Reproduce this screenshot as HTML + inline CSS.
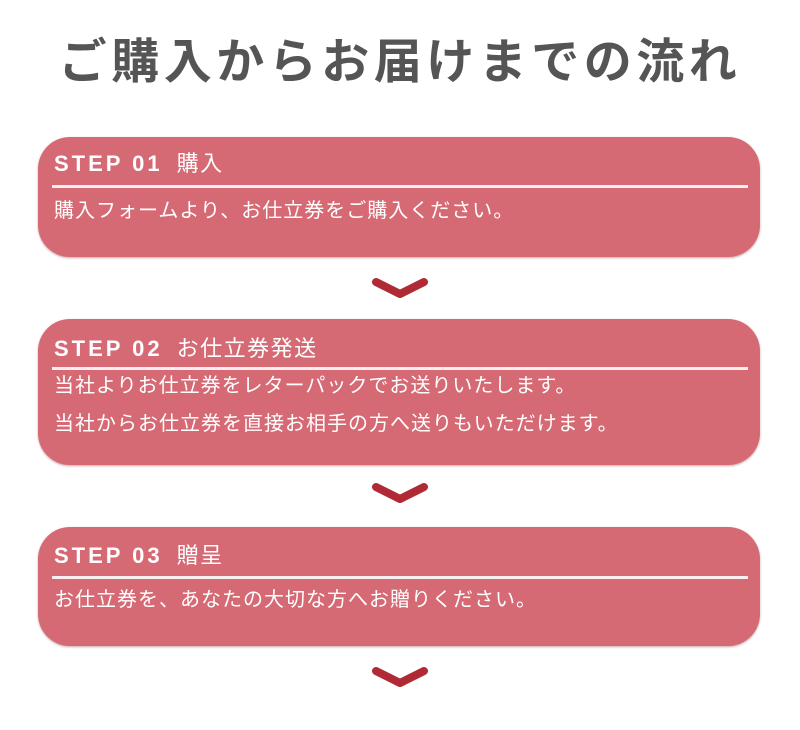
<!DOCTYPE html>
<html><head><meta charset="utf-8"><style>
html,body{margin:0;padding:0;background:#fff;}
body{width:800px;height:730px;position:relative;overflow:hidden;font-family:"Liberation Sans","Noto Sans CJK JP",sans-serif;}
.title{position:absolute;left:0;width:800px;top:33px;text-align:center;font-size:48px;font-weight:bold;color:#555;letter-spacing:4.5px;line-height:60px;}
.box{position:absolute;left:38px;width:722px;background:#d66a74;border-radius:32px;box-shadow:0 1px 2px rgba(120,30,40,.4);}
.hd{position:absolute;left:16px;color:#fff;font-size:22px;line-height:30px;letter-spacing:1.5px;}
.hd b{font-weight:bold;letter-spacing:3px;margin-right:14px;}
.rule{position:absolute;left:14px;width:696px;height:3px;background:#fbeef0;}
.tx{position:absolute;left:16px;color:#fff;font-size:20px;line-height:24px;letter-spacing:1px;}
.chev{position:absolute;left:372px;width:56px;height:24px;}
</style></head><body>
<div class="title">ご購入からお届けまでの流れ</div>

<div class="box" style="top:137px;height:120px;">
  <div class="hd" style="top:12px;"><b>STEP 01</b>購入</div>
  <div class="rule" style="top:48px;"></div>
  <div class="tx" style="top:62px;">購入フォームより、お仕立券をご購入ください。</div>
</div>
<svg class="chev" style="top:276px;" viewBox="0 0 56 24"><path d="M4 6 L28 18 L52 6" stroke="#b02a36" stroke-width="8" fill="none" stroke-linecap="round" stroke-linejoin="round"/></svg>

<div class="box" style="top:319px;height:146px;">
  <div class="hd" style="top:15px;"><b>STEP 02</b>お仕立券発送</div>
  <div class="rule" style="top:48px;"></div>
  <div class="tx" style="top:55px;">当社よりお仕立券をレターパックでお送りいたします。</div>
  <div class="tx" style="top:93px;">当社からお仕立券を直接お相手の方へ送りもいただけます。</div>
</div>
<svg class="chev" style="top:481px;" viewBox="0 0 56 24"><path d="M4 6 L28 18 L52 6" stroke="#b02a36" stroke-width="8" fill="none" stroke-linecap="round" stroke-linejoin="round"/></svg>

<div class="box" style="top:527px;height:119px;">
  <div class="hd" style="top:14px;"><b>STEP 03</b>贈呈</div>
  <div class="rule" style="top:49px;"></div>
  <div class="tx" style="top:61px;">お仕立券を、あなたの大切な方へお贈りください。</div>
</div>
<svg class="chev" style="top:665px;" viewBox="0 0 56 24"><path d="M4 6 L28 18 L52 6" stroke="#b02a36" stroke-width="8" fill="none" stroke-linecap="round" stroke-linejoin="round"/></svg>
</body></html>
